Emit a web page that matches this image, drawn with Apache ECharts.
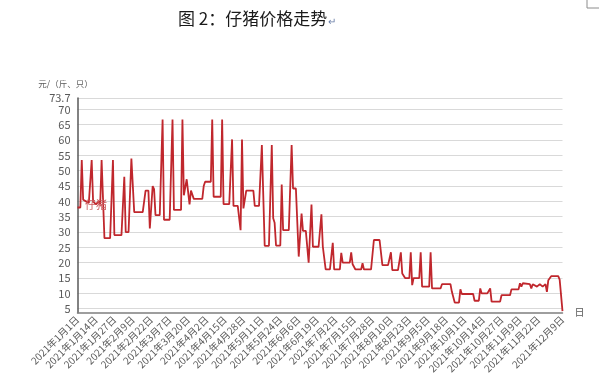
<!DOCTYPE html>
<html>
<head>
<meta charset="utf-8">
<script src="https://cdn.jsdelivr.net/npm/echarts@6/dist/echarts.min.js"></script>
<style>html,body{margin:0;padding:0;background:#fff;}#c{width:599px;height:380px;}</style>
</head>
<body>
<div id="c"></div>
<script>
// ---- data ----
const titleText = '图 2：仔猪价格走势';
const seriesName = '仔猪';
const yAxisName = '元/（斤、只）';
const xAxisName = '日';
const startDate = [2021, 1, 1];
const dayCount = 343; // 2021-01-01 .. 2021-12-09
const labelStep = 13;
const lastStepLabel = 325; // 2021年11月22日, after which only the final day is labelled
const yTickValues = [5, 10, 15, 20, 25, 30, 35, 40, 45, 50, 55, 60, 65, 70, 73.7];
// day offset from 2021-01-01 and price read at that day (corner points of the line)
const pointDays = [0, 2, 3, 4, 6, 8, 9, 10, 11, 13, 15, 16, 17, 19, 23, 25, 26, 31, 33, 34, 36, 38, 39, 40, 46, 48, 50, 51, 53, 54, 55, 58, 60, 61, 65, 67, 68, 73, 74, 75, 77, 79, 80, 82, 88, 89, 90, 94, 95, 96, 101, 102, 103, 107, 109, 110, 113, 115, 116, 117, 119, 124, 125, 128, 130, 132, 135, 137, 138, 139, 140, 143, 144, 145, 149, 151, 152, 154, 156, 158, 159, 161, 163, 165, 166, 170, 172, 173, 175, 178, 180, 181, 185, 186, 187, 192, 193, 194, 196, 200, 201, 202, 207, 209, 213, 215, 219, 221, 222, 226, 228, 229, 230, 231, 234, 235, 236, 237, 241, 242, 243, 248, 249, 250, 256, 257, 263, 264, 266, 269, 270, 271, 279, 280, 283, 284, 285, 289, 291, 292, 298, 299, 305, 306, 311, 312, 313, 314, 319, 320, 321, 324, 326, 328, 330, 331, 332, 334, 339, 340, 342];
const pointValues = [38, 38, 53.5, 40.5, 40, 39.5, 40, 53.5, 40, 39, 40, 39, 53.5, 28, 28, 53.5, 29, 29, 48, 30, 30, 54, 53.5, 36.5, 36.5, 43.5, 43.5, 31.2, 45, 44, 35.5, 35.5, 66.7, 34, 34, 66.7, 37.2, 37.2, 66.7, 42, 47.2, 39, 43.5, 40.8, 40.8, 45, 46.4, 46.4, 66.7, 41.5, 41.5, 66.7, 39.1, 39.1, 60.2, 38.5, 38.5, 30.6, 60.2, 37.7, 43.5, 43.5, 38.5, 38.5, 58.4, 25.5, 25.5, 58.4, 34.5, 33, 25.6, 25.6, 45.5, 30.6, 30.6, 58.4, 44.2, 44.2, 22, 36, 30.4, 30.4, 20, 39, 25.2, 25.2, 35.8, 25.2, 17.8, 17.8, 26.5, 17.8, 17.8, 23.2, 20, 20, 23.4, 19.5, 17.8, 17.8, 19.8, 17.8, 17.8, 27.4, 27.4, 19.2, 19.2, 23.4, 17.6, 17.6, 23.4, 16.5, 16.8, 15, 15, 23.4, 12.7, 15, 15, 23.4, 12.2, 12.2, 23.4, 11.6, 11.6, 13, 13, 10.5, 7, 7, 11.3, 9.8, 9.8, 7.6, 7.6, 11.6, 10, 10, 11.6, 7.3, 7.3, 9.4, 9.4, 11.3, 11.3, 13.3, 12.2, 13.3, 13, 11.6, 13, 12.2, 13, 12.2, 13, 10.5, 14.3, 15.6, 15.6, 14.5, 4.2];
const nameLabelDay = 13;

// ---- build ----
const categories = [];
{
  const d0 = new Date(startDate[0], startDate[1] - 1, startDate[2]);
  for (let i = 0; i < dayCount; i++) {
    const d = new Date(d0.getTime());
    d.setDate(d0.getDate() + i);
    categories.push(d.getFullYear() + '年' + (d.getMonth() + 1) + '月' + d.getDate() + '日');
  }
}
const lineData = pointDays.map((day, i) => [day, pointValues[i]]);
const nameIdx = pointDays.indexOf(nameLabelDay);

const chart = echarts.init(document.getElementById('c'), null, { renderer: 'canvas' });
chart.setOption({
  animation: false,
  backgroundColor: '#fff',
  textStyle: { fontFamily: '"Noto Sans CJK SC", "Noto Sans", sans-serif' },
  title: {
    text: '{m|' + titleText + '}{r|↵}',
    left: 173, top: 5,
    textStyle: {
      fontWeight: 'normal',
      rich: {
        m: { fontSize: 17, color: '#1a1a1a', fontWeight: 'normal', fontFamily: '"Noto Sans CJK SC"' },
        r: { fontSize: 10, color: '#6b7fa8', fontWeight: 'normal', padding: [5, 0, 0, 1] }
      }
    }
  },
  grid: { left: 77.5, right: 36.5, top: 98, bottom: 67.3, containLabel: false },
  xAxis: {
    type: 'category',
    data: categories,
    boundaryGap: false,
    name: xAxisName,
    nameLocation: 'end',
    nameGap: 12,
    nameTextStyle: { color: '#595959', fontSize: 10 },
    axisLine: { lineStyle: { color: '#7f7f7f', width: 1.5 } },
    axisTick: { show: false },
    axisLabel: {
      interval: (i) => (i % labelStep === 0 && i <= lastStepLabel) || i === dayCount - 1,
      rotate: 45,
      fontSize: 10,
      color: '#595959',
      margin: 5,
      hideOverlap: false
    },
    splitLine: { show: false }
  },
  yAxis: {
    type: 'value',
    min: 3.7,
    max: 73.7,
    name: yAxisName,
    nameLocation: 'end',
    nameGap: 10,
    nameTextStyle: { color: '#595959', fontSize: 8.5, align: 'center', padding: [0, 24, 0, 0] },
    axisLine: { show: true, lineStyle: { color: '#595959', width: 1.5 } },
    axisTick: { show: false, customValues: yTickValues },
    axisLabel: { customValues: yTickValues, color: '#595959', fontSize: 11, margin: 7, formatter: (v) => String(v) },
    splitLine: { show: true, lineStyle: { color: '#d9d9d9', width: 1 } }
  },
  graphic: [
    { type: 'polyline', shape: { points: [[587, 0], [587, 8], [599, 8]] }, style: { stroke: '#8c8c8c', lineWidth: 1, fill: null } }
  ],
  series: [{
    name: seriesName,
    type: 'line',
    data: lineData,
    showSymbol: false,
    symbol: 'none',
    lineStyle: { color: '#c0272d', width: 1.8 },
    itemStyle: { color: '#c0272d' },
    markPoint: {
      symbol: 'circle',
      symbolSize: 1,
      itemStyle: { color: 'rgba(0,0,0,0)' },
      label: { show: true, formatter: seriesName, position: 'inside', color: '#cc5a5e', fontSize: 11 },
      data: [{ coord: lineData[nameIdx] }]
    }
  }]
});
</script>
</body>
</html>
